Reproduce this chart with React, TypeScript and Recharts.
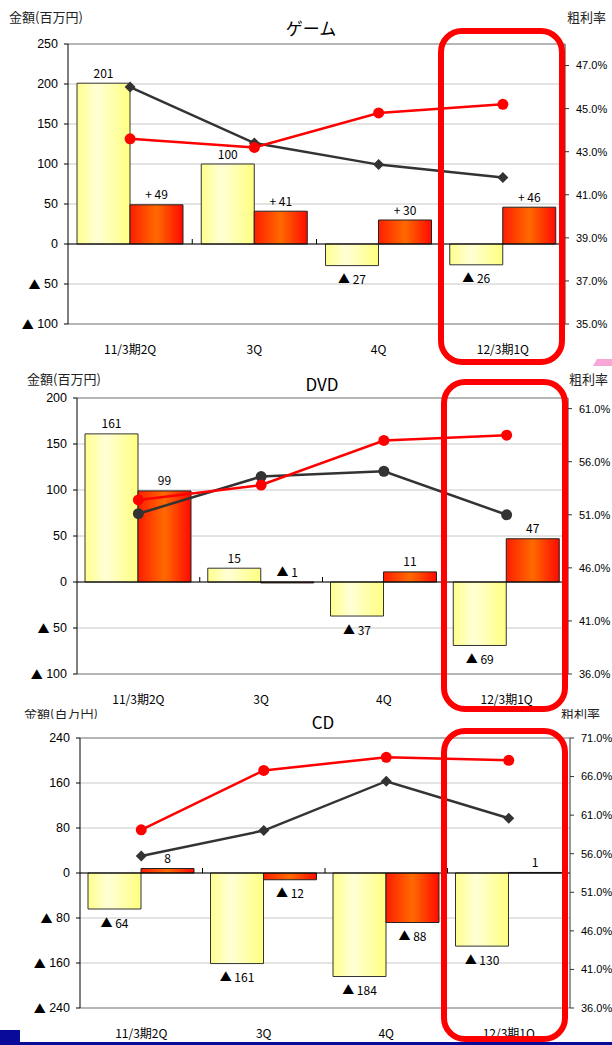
import React from "react";
import {
  Bar,
  CartesianGrid,
  ComposedChart,
  LabelList,
  Line,
  ReferenceLine,
  XAxis,
  YAxis,
} from "recharts";

const quarters = ["11/3期2Q", "3Q", "4Q", "12/3期1Q"];

// ゲーム
const gameSales = [201, 100, -27, -26];
const gameProfit = [49, 41, 30, 46];
const gameRateRed = [43.6, 43.2, 44.8, 45.2];
const gameRateGray = [46.0, 43.4, 42.4, 41.8];
const gameLeftTicks = [-100, -50, 0, 50, 100, 150, 200, 250];
const gameRightTicks = [35, 37, 39, 41, 43, 45, 47];

// DVD
const dvdSales = [161, 15, -37, -69];
const dvdProfit = [99, -1, 11, 47];
const dvdRateRed = [52.4, 53.8, 58.0, 58.5];
const dvdRateGray = [51.1, 54.6, 55.1, 51.0];
const dvdLeftTicks = [-100, -50, 0, 50, 100, 150, 200];
const dvdRightTicks = [36, 41, 46, 51, 56, 61];

// CD
const cdSales = [-64, -161, -184, -130];
const cdProfit = [8, -12, -88, 1];
const cdRateRed = [59.1, 66.8, 68.5, 68.1];
const cdRateGray = [55.7, 59.0, 65.4, 60.6];
const cdLeftTicks = [-240, -160, -80, 0, 80, 160, 240];
const cdRightTicks = [36, 41, 46, 51, 56, 61, 66, 71];

const JP = '"Noto Sans CJK JP", sans-serif';
const NUM = '"Liberation Sans", Arial, sans-serif';

function fmtAmount(v: number, plus: boolean) {
  if (v < 0) return `▲ ${-v}`;
  return plus ? `+ ${v}` : `${v}`;
}

const Diamond = (props: any) => {
  const { cx, cy } = props;
  if (cx == null || cy == null) return <g />;
  const r = 5.5;
  return (
    <polygon
      points={`${cx},${cy - r} ${cx + r},${cy} ${cx},${cy + r} ${cx - r},${cy}`}
      fill="#333"
    />
  );
};

const GrayCircle = (props: any) => {
  const { cx, cy } = props;
  if (cx == null || cy == null) return <g />;
  return <circle cx={cx} cy={cy} r={5.5} fill="#333" />;
};

const RedCircle = (props: any) => {
  const { cx, cy } = props;
  if (cx == null || cy == null) return <g />;
  return <circle cx={cx} cy={cy} r={5.5} fill="#ff0000" />;
};

// amount axis: negatives are written with a ▲ mark
const LeftTick = (props: any) => {
  const { x, y, payload } = props;
  const v = Number(payload.value);
  return (
    <text
      x={x}
      y={y}
      textAnchor="end"
      dominantBaseline="central"
      fontSize={12.5}
      fontFamily={NUM}
      fill="#000"
    >
      {v < 0 ? (
        <>
          <tspan fontFamily={JP} fontSize={12}>▲</tspan> {-v}
        </>
      ) : (
        `${v}`
      )}
    </text>
  );
};

// zero line with small ticks between the quarters
const ZeroLine = (props: any) => {
  const { x1, x2, y1 } = props;
  const step = (x2 - x1) / quarters.length;
  const ticks = [1, 2, 3].map((k) => x1 + step * k);
  return (
    <g>
      <line x1={x1} y1={y1} x2={x2} y2={y1} stroke="#000" strokeWidth={1} />
      {ticks.map((tx) => (
        <line key={tx} x1={tx} y1={y1 - 5} x2={tx} y2={y1} stroke="#000" />
      ))}
    </g>
  );
};

type PanelProps = {
  id: string;
  top: number;
  height: number;
  marginTop: number;
  marginBottom: number;
  leftWidth: number;
  rightWidth: number;
  sales: number[];
  profit: number[];
  rateRed: number[];
  rateGray: number[];
  leftTicks: number[];
  rightTicks: number[];
  rightDomain: [number, number];
  plusSign: boolean;
  grayDot: "diamond" | "circle";
};

function Panel(p: PanelProps) {
  const data = quarters.map((q, i) => ({
    q,
    sales: p.sales[i],
    profit: p.profit[i],
    red: p.rateRed[i],
    gray: p.rateGray[i],
  }));
  const lo = p.leftTicks[0];
  const hi = p.leftTicks[p.leftTicks.length - 1];

  const barLabel = (key: "sales" | "profit", plus: boolean) => (props: any) => {
    const { x, y, width, height, index } = props;
    const v = data[index][key];
    const y0 = Number(y);
    const h = Number(height);
    const top = Math.min(y0, y0 + h);
    const bottom = Math.max(y0, y0 + h);
    const below = v < 0 && bottom - top > 3;
    return (
      <text
        x={Number(x) + Number(width) / 2}
        y={below ? bottom + 13 : top - 11}
        textAnchor="middle"
        dominantBaseline="central"
        fontSize={12}
        fontFamily={JP}
        fill="#000"
      >
        {fmtAmount(v, plus)}
      </text>
    );
  };

  return (
    <div style={{ position: "absolute", left: 0, top: p.top }}>
      <ComposedChart
        width={612}
        height={p.height}
        data={data}
        barGap={0}
        margin={{ top: p.marginTop, bottom: p.marginBottom, left: 0, right: 0 }}
      >
        <defs>
          <linearGradient id={`yel-${p.id}`} x1="0" y1="0" x2="1" y2="0">
            <stop offset="0%" stopColor="#ffff8c" />
            <stop offset="38%" stopColor="#ffffd6" />
            <stop offset="100%" stopColor="#ffff80" />
          </linearGradient>
          <linearGradient id={`red-${p.id}`} x1="0" y1="0" x2="1" y2="0">
            <stop offset="0%" stopColor="#ff1e00" />
            <stop offset="50%" stopColor="#ff6a00" />
            <stop offset="100%" stopColor="#ff0a00" />
          </linearGradient>
        </defs>
        <YAxis
          yAxisId="left"
          width={p.leftWidth}
          domain={[lo, hi]}
          ticks={p.leftTicks}
          allowDataOverflow
          tick={LeftTick}
          tickSize={4}
          tickMargin={6}
          axisLine={{ stroke: "#000" }}
          tickLine={{ stroke: "#000" }}
        />
        <YAxis
          yAxisId="right"
          orientation="right"
          width={p.rightWidth}
          domain={p.rightDomain}
          ticks={p.rightTicks}
          allowDataOverflow
          tickFormatter={(v: number) => `${v.toFixed(1)}%`}
          tick={{ fontSize: 11, fill: "#000", fontFamily: NUM }}
          tickSize={4}
          tickMargin={7}
          axisLine={{ stroke: "#333" }}
          tickLine={{ stroke: "#333" }}
        />
        <XAxis
          dataKey="q"
          interval={0}
          axisLine={false}
          tickLine={false}
          tickSize={0}
          tickMargin={21}
          tick={{ fontSize: 12, fill: "#000", fontFamily: JP }}
        />
        <CartesianGrid yAxisId="left" vertical={false} stroke="#c8c8c8" />
        <ReferenceLine yAxisId="left" y={hi} stroke="#888" />
        <ReferenceLine yAxisId="left" y={lo} stroke="#888" />
        <Bar
          yAxisId="left"
          dataKey="sales"
          barSize={53}
          fill={`url(#yel-${p.id})`}
          stroke="#333"
          strokeWidth={1}
          isAnimationActive={false}
        >
          <LabelList dataKey="sales" content={barLabel("sales", false)} />
        </Bar>
        <Bar
          yAxisId="left"
          dataKey="profit"
          barSize={53}
          fill={`url(#red-${p.id})`}
          stroke="#222"
          strokeWidth={1}
          isAnimationActive={false}
        >
          <LabelList dataKey="profit" content={barLabel("profit", p.plusSign)} />
        </Bar>
        <ReferenceLine yAxisId="left" y={0} shape={ZeroLine} />
        <Line
          yAxisId="right"
          dataKey="gray"
          type="linear"
          stroke="#333"
          strokeWidth={2.5}
          dot={p.grayDot === "diamond" ? Diamond : GrayCircle}
          activeDot={false}
          isAnimationActive={false}
        />
        <Line
          yAxisId="right"
          dataKey="red"
          type="linear"
          stroke="#ff0000"
          strokeWidth={2.5}
          dot={RedCircle}
          activeDot={false}
          isAnimationActive={false}
        />
      </ComposedChart>
    </div>
  );
}

const caption: React.CSSProperties = {
  position: "absolute",
  fontFamily: JP,
  fontSize: 13,
  lineHeight: "13px",
  color: "#222",
  whiteSpace: "nowrap",
};

const title: React.CSSProperties = {
  position: "absolute",
  fontFamily: JP,
  fontSize: 17,
  lineHeight: "17px",
  color: "#000",
  transform: "translateX(-50%)",
  whiteSpace: "nowrap",
};

const box = (top: number, left: number, height: number): React.CSSProperties => ({
  position: "absolute",
  left,
  top,
  width: 127,
  height,
  boxSizing: "border-box",
  border: "6px solid #ff0000",
  borderRadius: 24,
});

export default function App() {
  return (
    <div
      style={{
        position: "absolute",
        left: 0,
        top: 0,
        width: 612,
        height: 1045,
        background: "#fff",
        overflow: "hidden",
      }}
    >
      <Panel
        id="game"
        top={0}
        height={360}
        marginTop={44}
        marginBottom={6}
        leftWidth={68}
        rightWidth={47}
        sales={gameSales}
        profit={gameProfit}
        rateRed={gameRateRed}
        rateGray={gameRateGray}
        leftTicks={gameLeftTicks}
        rightTicks={gameRightTicks}
        rightDomain={[35, 48]}
        plusSign
        grayDot="diamond"
      />
      <Panel
        id="dvd"
        top={360}
        height={355}
        marginTop={38}
        marginBottom={11}
        leftWidth={77}
        rightWidth={44}
        sales={dvdSales}
        profit={dvdProfit}
        rateRed={dvdRateRed}
        rateGray={dvdRateGray}
        leftTicks={dvdLeftTicks}
        rightTicks={dvdRightTicks}
        rightDomain={[36, 62]}
        plusSign={false}
        grayDot="circle"
      />
      <Panel
        id="cd"
        top={709}
        height={336}
        marginTop={29}
        marginBottom={7}
        leftWidth={80}
        rightWidth={42}
        sales={cdSales}
        profit={cdProfit}
        rateRed={cdRateRed}
        rateGray={cdRateGray}
        leftTicks={cdLeftTicks}
        rightTicks={cdRightTicks}
        rightDomain={[36, 71]}
        plusSign={false}
        grayDot="diamond"
      />

      <div style={{ ...caption, left: 9, top: 10 }}>金額(百万円)</div>
      <div style={{ ...caption, left: 567, top: 10 }}>粗利率</div>
      <div style={{ ...title, left: 311, top: 19 }}>ゲーム</div>

      <div style={{ ...caption, left: 27, top: 372 }}>金額(百万円)</div>
      <div style={{ ...caption, left: 569, top: 372 }}>粗利率</div>
      <div style={{ ...title, left: 322, top: 375 }}>DVD</div>

      {/* the CD captions sit partly under the DVD panel */}
      <div style={{ position: "absolute", left: 0, top: 709, width: 612, height: 10, overflow: "hidden" }}>
        <div style={{ ...caption, left: 24, top: -3.5 }}>金額(百万円)</div>
        <div style={{ ...caption, left: 561, top: -3.5 }}>粗利率</div>
      </div>
      <div style={{ ...title, left: 323, top: 713 }}>CD</div>

      <div style={box(28, 438, 337)} />
      <div style={box(379, 441, 333)} />
      <div style={box(728, 441, 314)} />

      <svg style={{ position: "absolute", left: 590, top: 357 }} width={22} height={10}>
        <polygon points="7,2 22,2 22,9 3,9" fill="#f7a6d8" />
      </svg>

      <div style={{ position: "absolute", left: 0, top: 1030, width: 20, height: 15, background: "#0a0a9a" }} />
      <div style={{ position: "absolute", left: 0, top: 1042, width: 612, height: 3, background: "#0a0a9a" }} />
    </div>
  );
}
